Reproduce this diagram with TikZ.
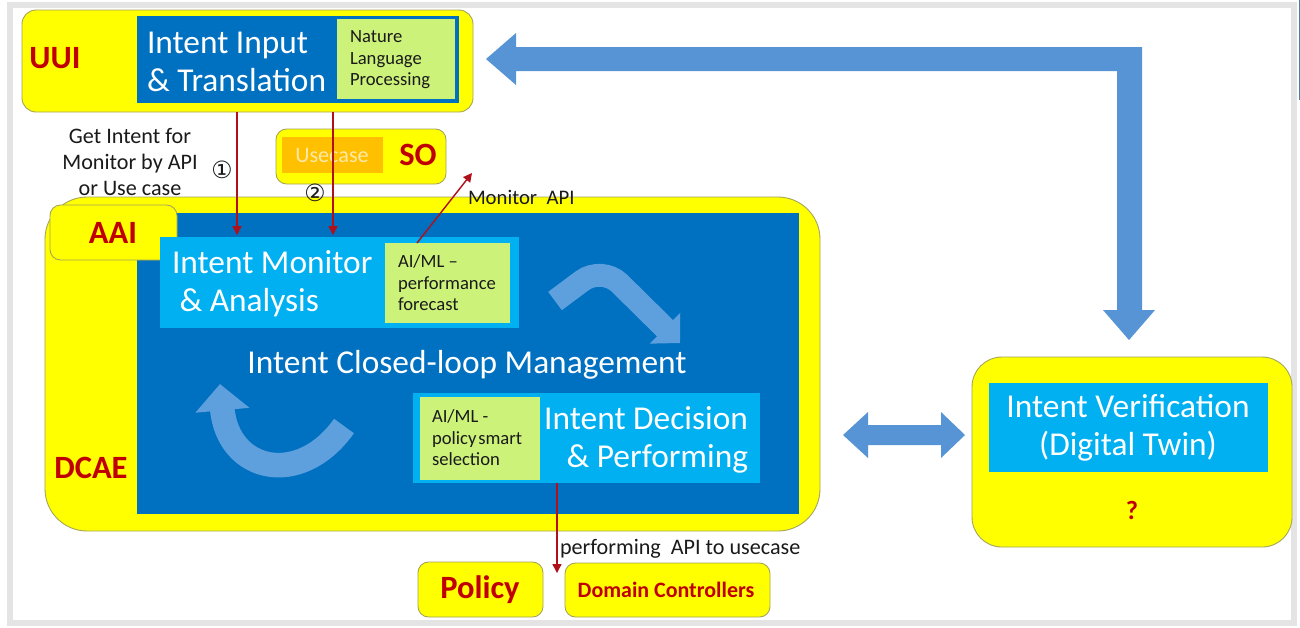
\documentclass[tikz,border=0pt]{standalone}
\usepackage{fontspec}
\setmainfont{Carlito}
\newfontfamily\djv{DejaVu Sans}
\usetikzlibrary{fit,arrows.meta}
\definecolor{yel}{HTML}{FFFF00}
\definecolor{ybord}{HTML}{A3A35A}
\definecolor{dblue}{HTML}{0070C0}
\definecolor{lblue}{HTML}{00B0F0}
\definecolor{lgreen}{HTML}{CCF27A}
\definecolor{dred}{HTML}{C00000}
\definecolor{arrowred}{HTML}{B0101A}
\definecolor{bigblue}{HTML}{5694D6}
\definecolor{curvblue}{HTML}{5EA0DD}
\definecolor{framegray}{HTML}{E4E4E4}
\definecolor{usetext}{HTML}{FFE9A8}
\definecolor{orng}{HTML}{FFC000}
\definecolor{txtdark}{HTML}{1A1A1A}
\newcommand\bigw{\fontsize{19}{21.5}\selectfont}
\newcommand\smallt{\fontsize{10.6}{12.2}\selectfont}
\begin{document}
\begin{tikzpicture}[x=0.02cm,y=-0.02cm,
  ybox/.style={fill=yel,draw=ybord,line width=0.5pt,rounded corners=8pt,inner sep=0pt},
  dbox/.style={fill=dblue,draw=none,inner sep=0pt},
  lbox/.style={fill=lblue,draw=none,inner sep=0pt},
  gbox/.style={fill=lgreen,draw=none,inner sep=0pt},
  lab/.style={inner sep=0pt,outer sep=0pt},
  wtxt/.style={lab,text=white,font=\bigw},
  gtxt/.style={lab,text=txtdark,font=\smallt,align=left,anchor=west},
  rtxt/.style={lab,text=dred,font=\bfseries\fontsize{18.5}{21}\selectfont},
  btxt/.style={lab,text=txtdark,font=\fontsize{12.6}{15}\selectfont},
  circ/.style={lab,font=\djv\fontsize{13.5}{15}\selectfont,text=txtdark},
  redarr/.style={draw=arrowred,line width=0.8pt,-{Triangle[length=5pt,width=5pt]}},
  bigarr/.style={fill=bigblue,draw=none},
  curvarr/.style={draw=curvblue,line width=13pt,rounded corners=14pt},
]
\fill[white] (0,0) rectangle (1300,627);
\useasboundingbox (0,0) rectangle (1300,627);
\draw[framegray,line width=3pt] (10,5) rectangle (1294,623);
\draw[color={rgb,255:red,70;green,130;blue,170},line width=1pt] (1299.5,0) -- (1299.5,100);

% big L arrow UUI <-> verification
\path[bigarr] (486,59) -- (516,33) -- (516,47) -- (1142,47) -- (1142,310) -- (1155,310)
  -- (1129,340) -- (1103,310) -- (1117,310) -- (1117,71) -- (516,71) -- (516,85) -- cycle;

% UUI
\node[ybox,fit={(22,10) (473,112)}] (uui) {};
\node[dbox,fit={(137,16) (459,103)}] (iit) {};
\node[gbox,fit={(337,19) (455,99)}] (nlp) {};
\node[rtxt] (uuit) at (55,58) {UUI};
\node[wtxt,anchor=west,align=left] (iitt) at (147,62) {Intent Input\\\& Translation};
\node[gtxt] (nlpt) at (350,60) {Nature\\Language\\Processing};

% SO
\node[ybox,rounded corners=6pt,fit={(276,129) (446,184)}] (so) {};
\node[fill=orng,inner sep=0pt,fit={(282,137) (383,173)}] (uc) {};
\node[lab,text=usetext,font=\fontsize{12.6}{14}\selectfont] (uct) at (332,155) {Usecase};
\node[rtxt] (sot) at (418,155) {SO};

% left text
\node[btxt,align=center] (gi) at (130,162) {Get Intent for\\Monitor by API\\or Use case};

% DCAE
\node[ybox,rounded corners=24pt,fit={(45,197) (820,531)}] (dcae) {};
\node[dbox,fit={(137,213) (799,514)}] (icl) {};
\node[ybox,rounded corners=6pt,fit={(50,205) (177,260)}] (aai) {};
\node[rtxt] (aait) at (113,233) {AAI};
\node[rtxt] (dcaet) at (91,468) {DCAE};
\node[circ] (c1) at (222,170) {①};
\node[circ] (c2) at (315,193) {②};

% monitor
\node[lbox,fit={(160,237) (519,328)}] (mon) {};
\node[gbox,fit={(385,243) (510,323)}] (ai1) {};
\node[wtxt,anchor=west,align=left] (mont) at (172,284) {Intent Monitor\\\ \& Analysis};
\node[gtxt] (ai1t) at (398,283) {AI/ML --\\performance\\forecast};

% closed loop text
\node[wtxt] (iclt) at (467,365) {Intent Closed-loop Management};

% decision
\node[lbox,fit={(413,393) (760,483)}] (dec) {};
\node[gbox,fit={(420,397) (540,480)}] (ai2) {};
\node[gtxt] (ai2t) at (432,438) {AI/ML -\\policy\hspace{0.1em}smart\\selection};
\node[wtxt,anchor=east,align=right] (dect) at (748,440) {Intent Decision\\\& Performing};

% curved arrows
\coordinate (ca1) at (555,301);
\coordinate (ca2) at (602,266);
\coordinate (ca3) at (680,343);
\draw[curvarr,-{Triangle[length=12pt,width=24pt]}] (ca1) -- (ca2) -- (ca3);
\coordinate (cb1) at (344,426);
\coordinate (cb2) at (220,384);
\draw[draw=curvblue,line width=14pt,-{Triangle[length=15pt,width=30pt]}] (cb1) .. controls (300,488) and (228,472) .. (cb2);

% bottom boxes
\node[ybox,rounded corners=6pt,fit={(418,562) (543,617)}] (pol) {};
\node[rtxt] (polt) at (480,590) {Policy};
\node[ybox,rounded corners=6pt,fit={(565,563) (770,617)}] (dc) {};
\node[lab,text=dred,font=\bfseries\fontsize{12.5}{14}\selectfont] (dct) at (666,590) {Domain Controllers};

% verification
\node[ybox,rounded corners=17pt,fit={(972,357) (1292,547)}] (ver) {};
\node[lbox,fit={(989,383) (1268,472)}] (veri) {};
\node[wtxt,align=center] (vert) at (1128,428) {Intent Verification\\(Digital Twin)};
\node[lab,text=dred,font=\bfseries\fontsize{15}{17}\selectfont] (q) at (1132,510) {?};

% double arrow
\path[bigarr] (843,435) -- (868,412) -- (868,425) -- (941,425) -- (941,412) -- (965,435)
  -- (941,458) -- (941,445) -- (868,445) -- (868,458) -- cycle;

% red connectors
\coordinate (r1s) at (237,112);
\coordinate (r2s) at (333,112);
\coordinate (r1e) at (237,235);
\coordinate (r2e) at (333,235);
\draw[redarr] (r1s) -- (r1e);
\draw[redarr] (r2s) -- (r2e);
\coordinate (m1s) at (417,243);
\coordinate (m1e) at (472,173);
\draw[redarr] (m1s) -- (m1e);
\node[btxt,anchor=west,font=\fontsize{11.8}{14}\selectfont] (mapi) at (468,197) {Monitor\ \ API};
\coordinate (p1s) at (557,483);
\coordinate (p1e) at (557,573);
\draw[redarr] (p1s) -- (p1e);
\node[btxt,anchor=west] (papi) at (560,549) {performing\ \ API to usecase};
\end{tikzpicture}
\end{document}
